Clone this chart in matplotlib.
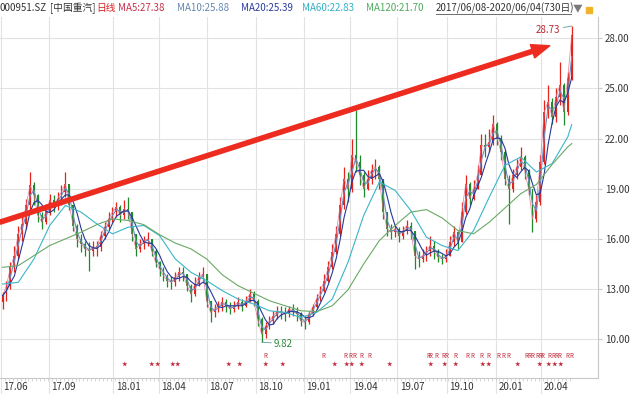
import numpy as np
import pandas as pd
import matplotlib
matplotlib.use("Agg")
import matplotlib.pyplot as plt
import matplotlib.transforms as mtransforms

plt.rcParams['font.family'] = ['Noto Sans CJK SC', 'DejaVu Sans']

# weekly candles (5 trading days each), 2017/06/08 - 2020/06/04, 730 days
first_open = 12.2
close = [12.6, 13.2, 14.3, 15.0, 16.3, 16.9, 18.0, 19.2, 18.6, 17.4,
         17.0, 17.6, 18.3, 18.0, 18.4, 18.8, 19.3, 18.0, 16.8, 16.0,
         15.7, 15.4, 15.3, 15.5, 15.5, 16.2, 16.7, 17.2, 17.6, 17.9,
         17.4, 17.8, 17.6, 16.3, 15.4, 15.7, 15.9, 16.0, 15.3, 14.6,
         14.2, 13.8, 13.5, 13.4, 13.7, 14.0, 13.9, 13.2, 12.7, 13.3,
         13.7, 13.9, 12.3, 11.6, 11.8, 12.0, 12.2, 12.0, 11.8, 12.0,
         12.2, 12.0, 12.3, 12.7, 12.3, 11.2, 10.3, 10.8, 11.1, 11.4,
         11.7, 11.6, 11.5, 11.8, 11.7, 11.5, 11.1, 11.0, 11.5, 11.9,
         12.4, 12.9, 13.5, 14.3, 15.2, 16.3, 18.0, 19.6, 19.0, 21.0,
         20.6, 19.8, 19.0, 19.6, 20.1, 20.3, 19.6, 17.6, 16.6, 16.4,
         16.6, 16.2, 16.5, 16.8, 16.5, 15.0, 14.8, 15.0, 15.3, 15.6,
         15.2, 14.9, 14.8, 15.0, 15.8, 16.4, 15.8, 17.6, 19.3, 18.4,
         19.0, 19.8, 21.6, 21.5, 21.8, 22.9, 22.0, 21.2, 19.6, 19.0,
         19.8, 20.3, 20.9, 20.1, 19.0, 17.2, 18.2, 20.6, 23.6, 24.2,
         23.3, 24.5, 25.2, 23.6, 25.6, 28.2]
high = [12.8, 13.5, 14.6, 15.6, 16.8, 17.4, 18.4, 20.0, 19.4, 18.7,
        17.6, 18.1, 18.7, 18.6, 18.8, 19.2, 20.0, 19.2, 18.0, 16.9,
        16.3, 15.9, 15.8, 15.9, 15.9, 16.5, 17.0, 17.6, 17.9, 18.2,
        18.0, 18.3, 18.5, 17.6, 16.3, 16.0, 16.2, 16.4, 16.0, 15.4,
        14.7, 14.3, 13.9, 13.8, 14.0, 14.3, 14.3, 13.9, 13.3, 13.7,
        14.0, 14.3, 13.9, 12.3, 12.1, 12.3, 12.5, 12.4, 12.2, 12.3,
        12.5, 12.4, 12.6, 13.0, 12.9, 12.4, 11.3, 11.0, 11.4, 11.7,
        12.0, 12.0, 11.9, 12.0, 12.1, 11.9, 11.6, 11.4, 11.7, 12.1,
        12.7, 13.2, 13.9, 14.7, 15.7, 16.8, 18.5, 20.3, 20.0, 22.0,
        23.7, 21.0, 20.0, 20.1, 20.5, 20.8, 20.4, 19.6, 17.5, 16.9,
        16.9, 16.7, 16.8, 17.1, 17.0, 16.4, 15.3, 15.4, 15.6, 16.2,
        15.9, 15.4, 15.1, 15.4, 16.2, 16.8, 16.5, 18.2, 19.8, 19.4,
        19.5, 20.4, 22.3, 22.3, 22.6, 23.4, 23.0, 22.2, 21.3, 19.8,
        20.2, 20.8, 21.5, 21.0, 20.2, 19.0, 18.6, 21.0, 24.3, 25.2,
        24.4, 25.0, 26.6, 25.3, 26.0, 28.73]
low = [11.8, 12.3, 13.0, 14.0, 14.8, 15.9, 16.6, 17.6, 18.0, 17.0,
       16.6, 16.9, 17.4, 17.6, 17.7, 18.0, 18.5, 17.7, 16.5, 15.5,
       15.2, 15.0, 14.1, 15.0, 15.0, 15.3, 16.0, 16.6, 17.0, 17.3,
       17.0, 17.2, 17.2, 15.9, 15.0, 15.2, 15.4, 15.6, 15.0, 14.3,
       13.8, 13.5, 13.1, 13.0, 13.2, 13.5, 13.5, 12.9, 12.2, 12.6,
       13.2, 13.4, 11.9, 11.0, 11.3, 11.6, 11.7, 11.6, 11.5, 11.6,
       11.8, 11.7, 11.9, 12.2, 12.0, 10.8, 9.82, 10.1, 10.6, 10.9,
       11.2, 11.2, 11.1, 11.3, 11.4, 11.1, 10.8, 10.6, 10.9, 11.4,
       11.8, 12.3, 12.8, 13.4, 14.2, 15.1, 16.2, 17.8, 18.2, 18.8,
       20.0, 19.2, 18.5, 18.9, 19.3, 19.6, 19.0, 17.2, 16.2, 16.0,
       16.1, 15.8, 16.0, 16.3, 16.0, 14.2, 14.3, 14.6, 14.7, 15.0,
       14.8, 14.6, 14.5, 14.6, 15.0, 15.6, 15.4, 15.8, 17.5, 18.0,
       18.3, 19.0, 19.8, 20.9, 21.2, 21.6, 21.6, 20.7, 19.2, 16.9,
       18.8, 19.6, 20.1, 19.6, 18.6, 16.4, 17.0, 18.0, 20.5, 23.2,
       22.9, 23.0, 24.0, 22.8, 23.4, 25.5]

# long moving averages read every 4 weeks (last point = final week)
ma_weeks = list(range(0, 145, 4)) + [145]
ma60 = [13.3, 13.4, 14.8, 16.8, 18.0, 17.6, 16.9, 16.3, 16.7, 16.8,
        16.2, 14.8, 14.0, 13.5, 12.9, 12.4, 12.1, 11.7, 11.6, 11.3,
        11.6, 12.4, 14.6, 17.4, 19.4, 18.9, 17.7, 16.1, 15.6, 15.3,
        16.5, 18.5, 20.4, 20.9, 20.0, 20.5, 22.1, 22.83]
ma120 = [14.3, 14.4, 15.0, 15.6, 16.0, 16.4, 16.85, 17.2, 17.1, 16.85,
         16.25, 15.75, 15.4, 14.8, 13.85, 13.2, 12.75, 12.3, 12.0, 11.7,
         11.65, 12.0, 12.95, 14.5, 15.9, 16.8, 17.6, 17.75, 17.25, 16.5,
         16.3, 17.0, 17.85, 18.7, 19.25, 20.45, 21.5, 21.7]

# month axis (trading-day index)
month_days = [0, 61, 143, 201, 262, 325, 386, 445, 505, 568, 631, 688]
month_labels = ['17.06', '17.09', '18.01', '18.04', '18.07', '18.10',
                '19.01', '19.04', '19.07', '19.10', '20.01', '20.04']

# signal markers along the bottom (trading-day index)
star_days = [157, 192, 200, 218, 225, 290, 304, 337, 358, 425, 440, 447,
             459, 495, 547, 565, 579, 613, 621, 658, 686, 697, 705, 713]
r_days = [337, 411, 439, 445, 450, 459, 469, 544, 547, 554, 564, 567, 579,
          594, 601, 612, 621, 634, 640, 646, 669, 673, 677, 683, 687, 690,
          699, 703, 707, 711, 722, 726]

# trend arrow (day, price)
arrow_start = (-1.3, 17.0)
arrow_end = (699, 27.55)

header = [("000951.SZ", 0, '#333333'), ("[中国重汽]", 50, '#333333'),
          ("日线", 96, '#d42020'), ("MA5:27.38", 118, '#c8304a'),
          ("MA10:25.88", 177, '#6688b0'), ("MA20:25.39", 241, '#2a3c9c'),
          ("MA60:22.83", 302, '#30b0c4'), ("MA120:21.70", 366, '#4caa5c')]
date_range = "2017/06/08-2020/06/04(730日)"

UP = '#e5231b'
DOWN = '#1f8a2c'

close_s = pd.Series(close)
opens = [first_open] + close[:-1]
days = np.arange(len(close)) * 5 + 2
cols = [UP if c >= o else DOWN for o, c in zip(opens, close)]

fig = plt.figure(figsize=(6.4, 3.94), dpi=100)
ax = fig.add_axes([0, 1 - 378 / 394, 598 / 640, (378 - 17) / 394])
ax.set_xlim(-1.27, 760.5)
ax.set_ylim(7.68, 29.27)

# grid
for d in month_days:
    ax.axvline(d, color='#e2e2e2', lw=0.8, zorder=0)
for p in range(10, 29, 3):
    ax.axhline(p, color='#e2e2e2', lw=0.8, zorder=0)

# candles
ax.vlines(days, low, high, colors=cols, lw=0.9, zorder=2)
body_lo = np.minimum(opens, close)
body_h = np.maximum(np.abs(np.array(close) - np.array(opens)), 0.06)
ax.bar(days, body_h, bottom=body_lo, width=2.4, color=cols, lw=0, zorder=2)

# moving averages
ax.plot(days, close_s.values, color='#e8708a', lw=0.6, alpha=0.8, zorder=3)
ax.plot(days, close_s.rolling(2, min_periods=1).mean(), color='#6f8fbf', lw=0.8, zorder=3)
ax.plot(days, close_s.rolling(4, min_periods=1).mean(), color='#26389a', lw=0.8, zorder=3)
ma_days = np.array(ma_weeks) * 5 + 2
ax.plot(ma_days, ma60, color='#3ab5c8', lw=0.8, zorder=3)
ax.plot(ma_days, ma120, color='#6aa865', lw=0.8, zorder=3)

# trend arrow
ax.annotate('', xy=arrow_end, xytext=arrow_start,
            arrowprops=dict(arrowstyle='simple,head_length=1.3,head_width=1.0,tail_width=0.3',
                            color='#ee2b1f', shrinkA=0, shrinkB=0), zorder=5)

# high / low labels
i_max = int(np.argmax(high))
i_min = int(np.argmin(low))
ax.annotate(f"{high[i_max]:.2f}", xy=(days[i_max], high[i_max]), xytext=(-8, -3),
            textcoords='offset points', ha='right', va='center', fontsize=7,
            color='#b8262e', arrowprops=dict(arrowstyle='-', color='#5a9aa0', lw=0.6,
                                             shrinkA=0, shrinkB=0))
ax.annotate(f"{low[i_min]:.2f}", xy=(days[i_min], low[i_min]), xytext=(9, -1),
            textcoords='offset points', ha='left', va='center', fontsize=7,
            color='#2e8b3e', arrowprops=dict(arrowstyle='-', color='#5a9aa0', lw=0.6,
                                             shrinkA=0, shrinkB=0))

# signals
trans = mtransforms.blended_transform_factory(ax.transData, ax.transAxes)
for d in star_days:
    ax.text(d, 0.039, '★', transform=trans, ha='center', va='center',
            fontsize=4, color='#c0283a')
for d in r_days:
    ax.text(d, 0.062, 'R', transform=trans, ha='center', va='center',
            fontsize=4.5, color='#c0283a')

# axes styling
for s in ['top', 'left']:
    ax.spines[s].set_visible(False)
ax.spines['right'].set_color('#c8c8c8')
ax.spines['bottom'].set_color('#c8c8c8')
ax.yaxis.tick_right()
ax.set_yticks(range(10, 29, 3))
ax.set_yticklabels([f"{p:.2f}" for p in range(10, 29, 3)])
ax.tick_params(axis='y', length=3, color='#c8c8c8', labelsize=7, labelcolor='#333333', pad=2)
ax.set_xticks(month_days)
ax.set_xticklabels([])
ax.set_xticks(np.arange(0, 730, 5), minor=True)
ax.tick_params(axis='x', which='major', length=16, color='#e2e2e2')
ax.tick_params(axis='x', which='minor', length=2, color='#c8c8c8', width=0.5)
for d, lab in zip(month_days, month_labels):
    ax.text(d + 3, -0.025, lab, transform=trans, ha='left', va='center',
            fontsize=7, color='#333333')

# header line
for txt, x, c in header:
    fig.text(x / 640, 1 - 8 / 394, txt, ha='left', va='center', fontsize=7, color=c)
fig.text(436 / 640, 1 - 8 / 394, date_range, ha='left', va='center', fontsize=7, color='#333333')
fig.add_artist(plt.Line2D([436 / 640, 571 / 640], [1 - 14 / 394, 1 - 14 / 394],
                          color='#555555', lw=0.6))
fig.text(573 / 640, 1 - 8 / 394, '▼', ha='left', va='center', fontsize=7, color='#7a7a7a')
fig.add_artist(plt.Rectangle((586 / 640, 1 - 13 / 394), 6 / 640, 6 / 394,
                             color='#f0b429', transform=fig.transFigure))

fig.savefig('out.png', dpi=100)
